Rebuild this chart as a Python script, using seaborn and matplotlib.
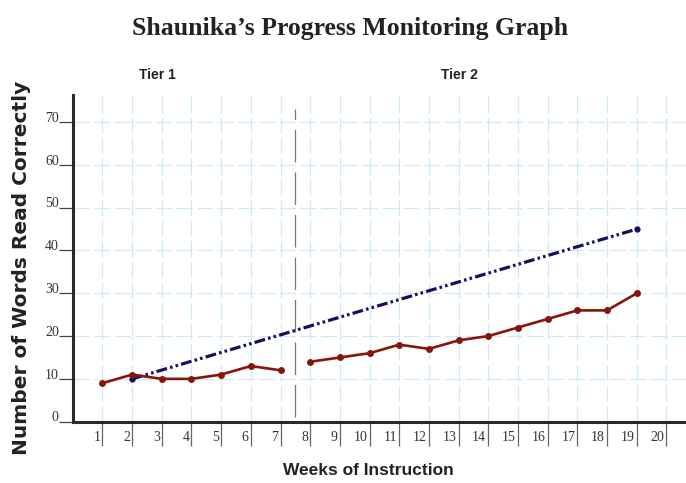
import matplotlib

matplotlib.use("Agg")
import matplotlib.pyplot as plt
from matplotlib.transforms import ScaledTranslation
import pandas as pd
import seaborn as sns

weeks_tier1 = [1, 2, 3, 4, 5, 6, 7]
words_tier1 = [9, 11, 10, 10, 11, 13, 12]
weeks_tier2 = [8, 9, 10, 11, 12, 13, 14, 15, 16, 17, 18, 19]
words_tier2 = [14, 15, 16, 18, 17, 19, 20, 22, 24, 26, 26, 30]
aim_weeks = [2, 19]
aim_words = [10, 45]
x_ticks = list(range(1, 21))
y_ticks = list(range(0, 71, 10))
phase_change_week = 7.5

DATA_RED = "#87150c"
AIM_BLUE = "#1c0c5c"
GRID_BLUE = "#cdeaf8"


def main() -> None:
    sns.set_theme(style="white")
    sans = ["Liberation Sans", "DejaVu Sans"]

    scores = pd.concat(
        [
            pd.DataFrame({"week": weeks_tier1, "words": words_tier1, "phase": "Tier 1"}),
            pd.DataFrame({"week": weeks_tier2, "words": words_tier2, "phase": "Tier 2"}),
        ],
        ignore_index=True,
    )
    aim = pd.DataFrame({"week": aim_weeks, "words": aim_words})

    fig = plt.figure(figsize=(6.86, 4.83), dpi=100)
    ax = fig.add_axes([0.106, 0.127, 0.894, 0.676])

    # aim line first so the data line sits on top of it
    sns.lineplot(
        data=aim,
        x="week",
        y="words",
        color=AIM_BLUE,
        linewidth=2.3,
        linestyle=(0, (3.4, 1.0, 0.8, 1.0, 0.8, 1.0)),
        marker="o",
        markersize=4.5,
        markeredgewidth=0,
        ax=ax,
    )
    sns.lineplot(
        data=scores,
        x="week",
        y="words",
        hue="phase",
        palette={"Tier 1": DATA_RED, "Tier 2": DATA_RED},
        estimator=None,
        linewidth=1.9,
        marker="o",
        markersize=5,
        markeredgewidth=0,
        legend=False,
        ax=ax,
    )

    ax.plot(
        [phase_change_week, phase_change_week], [1.2, 73],
        color="#777777", linewidth=0.9, dashes=(26, 8),
    )

    ax.set_xlim(0, 20.66)
    ax.set_ylim(0, 76.3)
    ax.set_xticks(x_ticks)
    ax.set_yticks(y_ticks)
    ax.set_xticklabels([str(w) for w in x_ticks])
    ax.set_yticklabels([str(v) for v in y_ticks])
    ax.grid(True, color=GRID_BLUE, linestyle=(0, (13, 3.5)), linewidth=0.9)
    ax.set_axisbelow(True)

    for side in ["top", "right"]:
        ax.spines[side].set_visible(False)
    for side in ["left", "bottom"]:
        ax.spines[side].set_color("#2a2a2a")
        ax.spines[side].set_linewidth(2.2)

    ax.tick_params(
        axis="x", bottom=True, direction="out", length=17, width=0.9,
        color="#666666", pad=-10.5, labelsize=10, labelcolor="#333333",
    )
    ax.tick_params(
        axis="y", left=True, direction="out", length=10, width=0.9,
        color="#444444", pad=0, labelsize=10, labelcolor="#333333",
    )
    nudge_left = ScaledTranslation(-1.5 / 72, 0, fig.dpi_scale_trans)
    for label in ax.get_xticklabels():
        label.set_family("Liberation Serif")
        label.set_horizontalalignment("right")
        label.set_transform(label.get_transform() + nudge_left)
    nudge_down = ScaledTranslation(0, -2 / 72, fig.dpi_scale_trans)
    for label in ax.get_yticklabels():
        label.set_family("Liberation Serif")
        label.set_verticalalignment("bottom")
        label.set_transform(label.get_transform() + nudge_down)

    ax.set_xlabel("")
    ax.set_ylabel("")

    fig.text(
        0.51, 0.942, "Shaunika\u2019s Progress Monitoring Graph",
        ha="center", va="center", fontsize=18.5, fontweight="bold",
        family="Liberation Serif", color="#222222",
    )
    fig.text(0.23, 0.845, "Tier 1", ha="center", va="center", fontsize=10,
             fontweight="bold", family=sans, color="#222222")
    fig.text(0.67, 0.845, "Tier 2", ha="center", va="center", fontsize=10,
             fontweight="bold", family=sans, color="#222222")
    fig.text(0.537, 0.025, "Weeks of Instruction", ha="center", va="center",
             fontsize=12.5, fontweight="bold", family=sans, color="#222222")
    fig.text(0.032, 0.445, "Number of Words Read Correctly", ha="center",
             va="center", rotation=90, fontsize=14.5, fontweight="bold",
             family="DejaVu Sans", color="#222222")

    fig.savefig("out.png", dpi=100)
    plt.close(fig)


if __name__ == "__main__":
    main()
